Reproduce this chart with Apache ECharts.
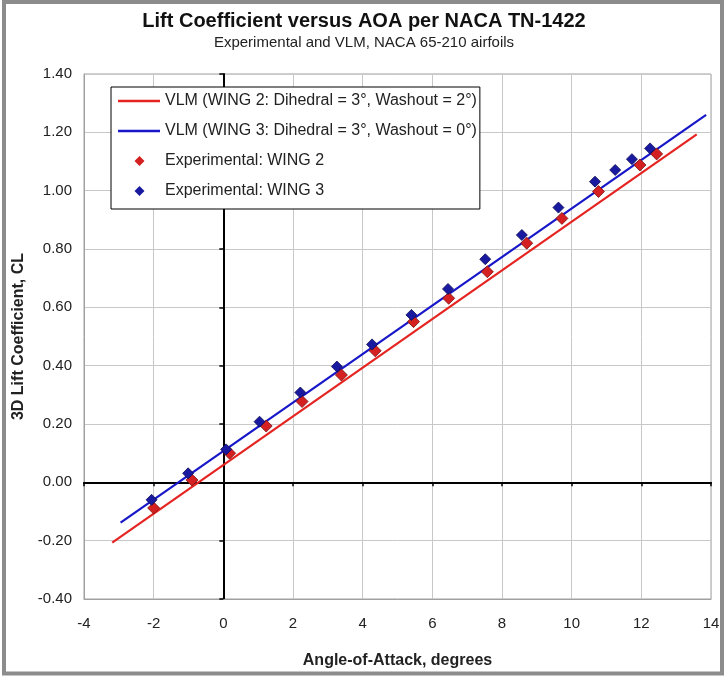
<!DOCTYPE html>
<html>
<head>
<meta charset="utf-8">
<script src="https://cdn.jsdelivr.net/npm/echarts@6/dist/echarts.min.js"></script>
<style>
html,body{margin:0;padding:0;background:#fff;}
#chart{width:728px;height:676px;}
</style>
</head>
<body>
<div id="chart"></div>
<script>
// ---- Data ----
const titleText = 'Lift Coefficient versus AOA per NACA TN-1422';
const subtitleText = 'Experimental and VLM, NACA 65-210 airfoils';
const xAxisTitle = 'Angle-of-Attack, degrees';
const yAxisTitle = '3D Lift Coefficient, CL';
const seriesNames = [
  'VLM (WING 2: Dihedral = 3°, Washout = 2°)',
  'VLM (WING 3: Dihedral = 3°, Washout = 0°)',
  'Experimental: WING 2',
  'Experimental: WING 3'
];
// VLM straight lines (end points)
const vlmWing2Aoa = [-3.19, 13.59];
const vlmWing2Cl  = [-0.207, 1.193];
const vlmWing3Aoa = [-2.95, 13.86];
const vlmWing3Cl  = [-0.138, 1.26];
// Experimental points
const expWing2Aoa = [-2.0, -0.9, 0.18, 1.23, 2.26, 3.39, 4.36, 5.46, 6.47, 7.58, 8.71, 9.72, 10.77, 11.96, 12.44];
const expWing2Cl  = [-0.088, 0.008, 0.100, 0.193, 0.277, 0.368, 0.451, 0.551, 0.631, 0.722, 0.820, 0.905, 0.997, 1.088, 1.126];
const expWing3Aoa = [-2.06, -1.01, 0.08, 1.04, 2.21, 3.26, 4.27, 5.40, 6.45, 7.52, 8.57, 9.62, 10.67, 11.25, 11.73, 12.25];
const expWing3Cl  = [-0.060, 0.031, 0.113, 0.208, 0.308, 0.397, 0.473, 0.574, 0.663, 0.765, 0.848, 0.942, 1.031, 1.071, 1.108, 1.145];
// Axis ranges / tick steps
const xMin = -4, xMax = 14, xStep = 2;
const yMin = -0.4, yMax = 1.4, yStep = 0.2;

const zip = (a, b) => a.map((v, i) => [v, b[i]]);
const FONT = "'Liberation Sans', Arial, sans-serif";

// legend icons (with tiny corner anchors so the icon box is the full item box)
const ANCHORS = 'M0,0 L0.01,0 L0,0.01 Z M42,10 L41.99,10 L42,9.99 Z ';
const lineIcon = 'path://' + ANCHORS + 'M0,3.8 L42,3.8 L42,6.2 L0,6.2 Z';
const diamondIcon = 'path://' + ANCHORS + 'M16.5,5 L21.5,0 L26.5,5 L21.5,10 Z';

const chart = echarts.init(document.getElementById('chart'), null, {renderer: 'canvas'});
const option = {
  animation: false,
  backgroundColor: '#ffffff',
  textStyle: {fontFamily: FONT},
  title: [
    {text: titleText, left: 'center', top: 6,
     textStyle: {fontFamily: FONT, fontSize: 20, fontWeight: 'bold', color: '#111'}},
    {text: subtitleText, left: 'center', top: 30,
     textStyle: {fontFamily: FONT, fontSize: 15, fontWeight: 'normal', color: '#222'}}
  ],
  graphic: [
    {type: 'rect', shape: {x: 4, y: 2, width: 718, height: 671.5},
     style: {fill: 'none', stroke: '#8c8c8c', lineWidth: 4}, silent: true, z: 100}
  ],
  legend: {
    orient: 'vertical', left: 111, top: 87,
    padding: [6, 3, 10, 7], itemGap: 14,
    itemWidth: 42, itemHeight: 10,
    backgroundColor: '#fff', borderColor: '#000', borderWidth: 1, borderRadius: 0,
    textStyle: {fontFamily: FONT, fontSize: 16, color: '#222'},
    itemStyle: {borderWidth: 0},
    data: [
      {name: seriesNames[0], icon: lineIcon, itemStyle: {borderWidth: 0}},
      {name: seriesNames[1], icon: lineIcon, itemStyle: {borderWidth: 0}},
      {name: seriesNames[2], icon: diamondIcon, itemStyle: {borderWidth: 0}},
      {name: seriesNames[3], icon: diamondIcon, itemStyle: {borderWidth: 0}}
    ]
  },
  grid: {left: 84, top: 74, right: 17, bottom: 77, show: true, borderColor: '#a0a0a0', borderWidth: 1, containLabel: false},
  xAxis: [
    {type: 'value', min: xMin, max: xMax, interval: xStep,
     axisLine: {onZero: false, show: true, lineStyle: {color: '#a0a0a0'}},
     axisTick: {show: false},
     axisLabel: {margin: 17, fontFamily: FONT, fontSize: 15, color: '#222'},
     splitLine: {show: true, lineStyle: {color: '#c8c8c8', width: 1}},
     name: xAxisTitle, nameLocation: 'middle', nameGap: 54,
     nameTextStyle: {fontFamily: FONT, fontSize: 16, fontWeight: 'bold', color: '#222'}},
    {type: 'value', min: xMin, max: xMax, interval: xStep, position: 'bottom',
     axisLine: {onZero: true, onZeroAxisIndex: 0, show: true, lineStyle: {color: '#000', width: 2}},
     axisTick: {show: true, length: 4, lineStyle: {color: '#000', width: 1.5}},
     axisLabel: {show: false}, splitLine: {show: false}}
  ],
  yAxis: [
    {type: 'value', min: yMin, max: yMax, interval: yStep,
     axisLine: {onZero: false, show: true, lineStyle: {color: '#a0a0a0'}},
     axisTick: {show: false},
     axisLabel: {margin: 12, fontFamily: FONT, fontSize: 15, color: '#222',
                 formatter: v => v.toFixed(2)},
     splitLine: {show: true, lineStyle: {color: '#c8c8c8', width: 1}},
     name: yAxisTitle, nameLocation: 'middle', nameGap: 56,
     nameTextStyle: {fontFamily: FONT, fontSize: 16, fontWeight: 'bold', color: '#222'}},
    {type: 'value', min: yMin, max: yMax, interval: yStep, position: 'left',
     axisLine: {onZero: true, onZeroAxisIndex: 0, show: true, lineStyle: {color: '#000', width: 2}},
     axisTick: {show: true, length: 4, lineStyle: {color: '#000', width: 1.5}},
     axisLabel: {show: false}, splitLine: {show: false}}
  ],
  series: [
    {name: seriesNames[0], type: 'line', data: zip(vlmWing2Aoa, vlmWing2Cl),
     symbol: 'none', lineStyle: {color: '#e52421', width: 2.2}, itemStyle: {color: '#e52421'}, z: 3},
    {name: seriesNames[1], type: 'line', data: zip(vlmWing3Aoa, vlmWing3Cl),
     symbol: 'none', lineStyle: {color: '#1717c9', width: 2.2}, itemStyle: {color: '#1717c9'}, z: 3},
    {name: seriesNames[2], type: 'scatter', data: zip(expWing2Aoa, expWing2Cl),
     symbol: 'diamond', symbolSize: 12,
     itemStyle: {color: '#d42020', borderColor: '#7a1212', borderWidth: 0.8, opacity: 1}, z: 4},
    {name: seriesNames[3], type: 'scatter', data: zip(expWing3Aoa, expWing3Cl),
     symbol: 'diamond', symbolSize: 11,
     itemStyle: {color: '#1a1aa0', borderColor: '#0b0b55', borderWidth: 0.8, opacity: 1}, z: 4}
  ]
};
chart.setOption(option);
</script>
</body>
</html>
